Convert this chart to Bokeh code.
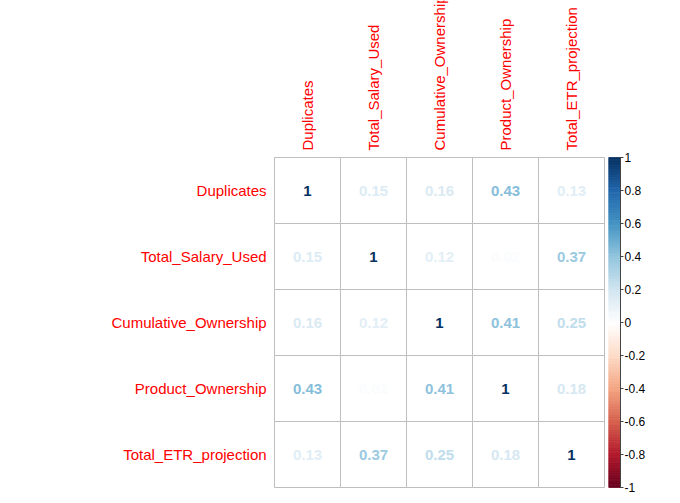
import numpy as np
from bokeh.plotting import figure
from bokeh.models import Range1d, ColumnDataSource
from bokeh.core.properties import value
from bokeh.embed import file_html
from bokeh.resources import INLINE

variables = ["Duplicates", "Total_Salary_Used", "Cumulative_Ownership",
             "Product_Ownership", "Total_ETR_projection"]
corr = [
    [1.00, 0.15, 0.16, 0.43, 0.13],
    [0.15, 1.00, 0.12, 0.02, 0.37],
    [0.16, 0.12, 1.00, 0.41, 0.25],
    [0.43, 0.02, 0.41, 1.00, 0.18],
    [0.13, 0.37, 0.25, 0.18, 1.00],
]
cbar_ticks = [-1, -0.8, -0.6, -0.4, -0.2, 0, 0.2, 0.4, 0.6, 0.8, 1]
cbar_tick_labels = ["-1", "-0.8", "-0.6", "-0.4", "-0.2", "0", "0.2", "0.4", "0.6", "0.8", "1"]

# corrplot RdBu anchor colours (from -1 to 1)
anchors = ["#67001F", "#B2182B", "#D6604D", "#F4A582", "#FDDBC7", "#FFFFFF",
           "#D1E5F0", "#92C5DE", "#4393C3", "#2166AC", "#053061"]

def hex2rgb(h):
    return np.array([int(h[i:i + 2], 16) for i in (1, 3, 5)], dtype=float)

anchor_rgb = [hex2rgb(h) for h in anchors]

def colour_of(v):
    t = (v + 1) / 2 * (len(anchors) - 1)
    i = int(np.floor(t))
    if i >= len(anchors) - 1:
        c = anchor_rgb[-1]
    else:
        f = t - i
        c = anchor_rgb[i] * (1 - f) + anchor_rgb[i + 1] * f
    return "#%02x%02x%02x" % tuple(int(round(x)) for x in c)

n = len(variables)
W, H = 672, 495
px = 66.0
left_px = 274.0
bottom_px = H - 487.0

p = figure(width=W, height=H, output_backend="svg", toolbar_location=None,
           x_axis_location=None, y_axis_location=None, min_border=0,
           x_range=Range1d(-left_px / px, (W - left_px) / px),
           y_range=Range1d(-bottom_px / px, (H - bottom_px) / px))
p.outline_line_color = None
p.grid.visible = False
p.background_fill_color = "white"
p.border_fill_color = "white"

# cells
xs, ys, txt, cols = [], [], [], []
for i in range(n):
    for j in range(n):
        v = corr[i][j]
        xs.append(j + 0.5)
        ys.append(n - i - 0.5)
        txt.append("1" if v == 1 else ("%.2f" % v))
        cols.append(colour_of(v))
src = ColumnDataSource(dict(x=xs, y=ys, t=txt, c=cols))
p.rect(x="x", y="y", width=1, height=1, source=src, fill_color="white",
       line_color="#BEBEBE", line_width=1)
p.text(x="x", y="y", text="t", text_color="c", source=src,
       text_font=value("Liberation Sans"), text_font_style="bold",
       text_font_size="15px", text_align="center", text_baseline="middle")

# row labels
p.text(x=[-0.12] * n, y=[n - i - 0.5 for i in range(n)], text=variables,
       text_color="#FF0000", text_font=value("Liberation Sans"),
       text_font_size="15px", text_align="right", text_baseline="middle")
# column labels
p.text(x=[j + 0.5 for j in range(n)], y=[n + 7 / px] * n, text=variables,
       angle=np.pi / 2, text_color="#FF0000", text_font=value("Liberation Sans"),
       text_font_size="15px", text_align="left", text_baseline="middle")

# colour bar
cb_x0 = (608.3 - left_px) / px
cb_x1 = (620.0 - left_px) / px
nsteps = 200
edges = np.linspace(-1, 1, nsteps + 1)
vals = (edges[:-1] + edges[1:]) / 2
bot = (edges[:-1] + 1) / 2 * n
top = (edges[1:] + 1) / 2 * n
bar_cols = [colour_of(v) for v in vals]
p.quad(left=cb_x0, right=cb_x1, bottom=bot, top=top,
       fill_color=bar_cols, line_color=bar_cols, line_width=0.8)
p.segment(x0=[cb_x1], y0=[0], x1=[cb_x1], y1=[n], line_color="#444444", line_width=1)
tick_y = [(t + 1) / 2 * n for t in cbar_ticks]
p.segment(x0=[cb_x1] * len(tick_y), y0=tick_y, x1=[cb_x1 + 3 / px] * len(tick_y),
          y1=tick_y, line_color="#444444", line_width=1)
p.text(x=[cb_x1 + 4 / px] * len(tick_y), y=tick_y, text=cbar_tick_labels,
       text_color="black", text_font=value("Liberation Sans"),
       text_font_size="12px", text_align="left", text_baseline="middle")

open("out.html", "w").write(file_html(p, INLINE))
